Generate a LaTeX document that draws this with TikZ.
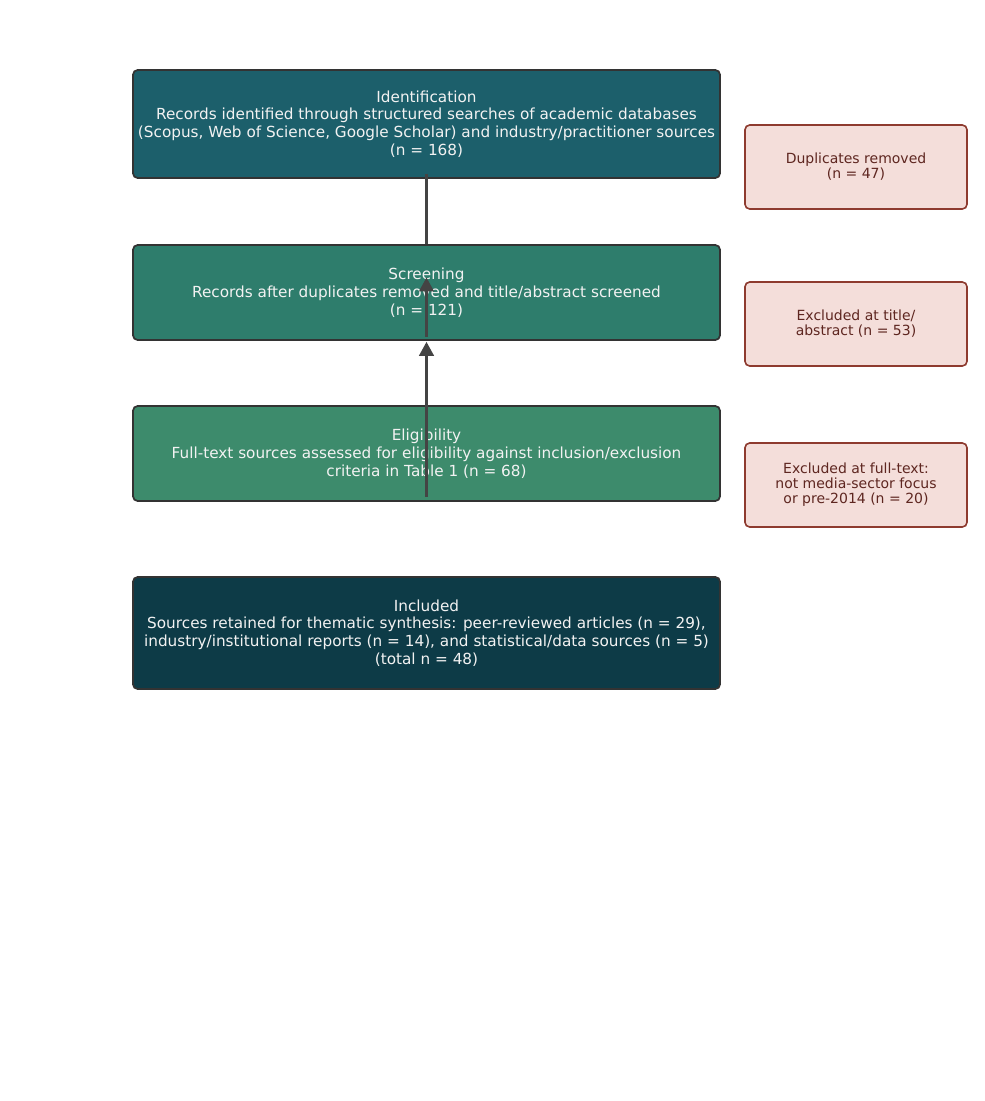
\documentclass[tikz,border=0pt]{standalone}
\usepackage{fontspec}
\setmainfont{DejaVu Sans}
\usetikzlibrary{arrows.meta}
\definecolor{cIdent}{HTML}{1C5F6B}
\definecolor{cScreen}{HTML}{2E7D6C}
\definecolor{cElig}{HTML}{3D8B6C}
\definecolor{cIncl}{HTML}{0D3B47}
\definecolor{cMainBorder}{HTML}{333333}
\definecolor{cMainText}{HTML}{F2F2F2}
\definecolor{cSideFill}{HTML}{F4DEDA}
\definecolor{cSideBorder}{HTML}{8E3B2F}
\definecolor{cSideText}{HTML}{5E2620}
\definecolor{cLine}{HTML}{444444}
\tikzset{
  mainbox/.style={draw=cMainBorder, line width=1.3pt, rounded corners=3.5pt,
    minimum width=440.25pt, align=center, text=cMainText, inner sep=0pt,
    font=\fontsize{11.45pt}{13.3pt}\selectfont},
  sidebox/.style={draw=cSideBorder, fill=cSideFill, line width=1.2pt, rounded corners=3.5pt,
    minimum width=166.5pt, minimum height=63pt, align=center, text=cSideText, inner sep=0pt,
    font=\fontsize{10.5pt}{11.3pt}\selectfont},
  conn/.style={draw=cLine, line width=1.7pt},
  arr/.style={conn, -{Triangle[length=10.5pt,width=11pt]}}
}
\begin{document}
\begin{tikzpicture}[x=0.75pt,y=-0.75pt]
\useasboundingbox (0,0) rectangle (985,1101);
\node[mainbox, fill=cIdent, minimum height=81pt] (ident) at (426.5,124)
  {Identification\\Records identified through structured searches of academic databases\\(Scopus, Web of Science, Google Scholar) and industry/practitioner sources\\(n = 168)};
\node[mainbox, fill=cScreen, minimum height=71.25pt] (screen) at (426.5,292.5)
  {Screening\\Records after duplicates removed and title/abstract screened\\(n = 121)};
\node[mainbox, fill=cElig, minimum height=71.25pt] (elig) at (426.5,453.5)
  {Eligibility\\Full-text sources assessed for eligibility against inclusion/exclusion\\criteria in Table 1 (n = 68)};
\node[mainbox, fill=cIncl, minimum height=84pt] (incl) at (426.5,633)
  {Included\\Sources retained for thematic synthesis: peer-reviewed articles (n = 29),\\industry/institutional reports (n = 14), and statistical/data sources (n = 5)\\(total n = 48)};
\node[sidebox] (dup) at (856,167) {Duplicates removed\\(n = 47)};
\node[sidebox] (extitle) at (856,324) {Excluded at title/\\abstract (n = 53)};
\node[sidebox] (exfull) at (856,485) {Excluded at full-text:\\not media-sector focus\\or pre-2014 (n = 20)};
\draw[conn] ([yshift=3.75pt]ident.south) -- (screen.north);
\draw[arr] ([yshift=3pt]screen.south) -- ([yshift=-25pt]screen.north);
\draw[arr] ([yshift=3.75pt]elig.south) -- ([yshift=-0.75pt]screen.south);
\end{tikzpicture}
\end{document}
